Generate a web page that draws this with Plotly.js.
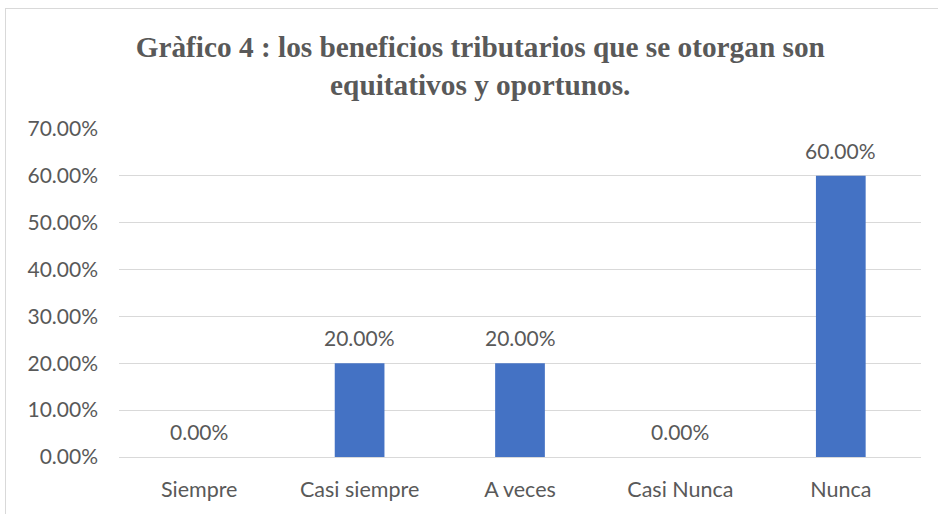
<!DOCTYPE html>
<html><head><meta charset="utf-8">
<script src="https://cdn.plot.ly/plotly-3.0.1.min.js"></script>
<style>
html,body{margin:0;padding:0;background:#fff;overflow:hidden}
#wrap{position:relative;width:938px;height:514px}
#chart{position:absolute;left:0;top:0;width:938px;height:514px}
#frame{position:absolute;left:5px;top:8px;width:1000px;height:600px;border:1px solid #d9d9d9;pointer-events:none}
</style></head>
<body>
<div id="wrap"><div id="chart"></div><div id="frame"></div></div>
<script>
const categories = ["Siempre", "Casi siempre", "A veces", "Casi Nunca", "Nunca"];
const values = [0.00, 0.20, 0.20, 0.00, 0.60];
const valueLabels = ["0.00%", "20.00%", "20.00%", "0.00%", "60.00%"];
const titleText = "Gràfico 4 : los beneficios tributarios que se otorgan son<br>equitativos y oportunos.";

const FONT = "Lato, 'Open Sans', sans-serif";
const GREY = "#595959";

const trace = {
  type: "bar",
  x: categories,
  y: values,
  marker: {color: "#4472c4"},
  hoverinfo: "none"
};

const annotations = categories.map((c, i) => ({
  x: c, y: values[i], xref: "x", yref: "y",
  text: valueLabels[i], showarrow: false,
  yanchor: "bottom", yshift: 11,
  font: {family: FONT, size: 21, color: GREY}
}));

const layout = {
  width: 938, height: 514,
  paper_bgcolor: "rgba(0,0,0,0)", plot_bgcolor: "rgba(0,0,0,0)",
  margin: {l: 119, r: 17, t: 129, b: 57},
  showlegend: false,
  bargap: 0.69,
  title: {
    text: titleText,
    font: {family: "'Liberation Serif', 'Times New Roman', serif", size: 29.3, color: GREY, weight: "bold"},
    xref: "container", x: 0.512, xanchor: "center",
    yref: "container", y: 1 - 57/514, yanchor: "middle"
  },
  xaxis: {
    type: "category",
    tickfont: {family: FONT, size: 21.5, color: GREY},
    showgrid: false, showline: false, zeroline: false,
    ticks: "", ticklabelstandoff: 17
  },
  yaxis: {
    range: [0, 0.70],
    dtick: 0.10, tick0: 0,
    tickformat: ".2%",
    tickfont: {family: FONT, size: 21, color: GREY},
    showgrid: true, gridcolor: "#d9d9d9", gridwidth: 1,
    zeroline: true, zerolinecolor: "#d9d9d9", zerolinewidth: 1,
    showline: false, ticks: "", ticklabelstandoff: 20
  },
  annotations: annotations
};

Plotly.newPlot("chart", [trace], layout, {displayModeBar: false, staticPlot: true});
</script>
</body></html>
